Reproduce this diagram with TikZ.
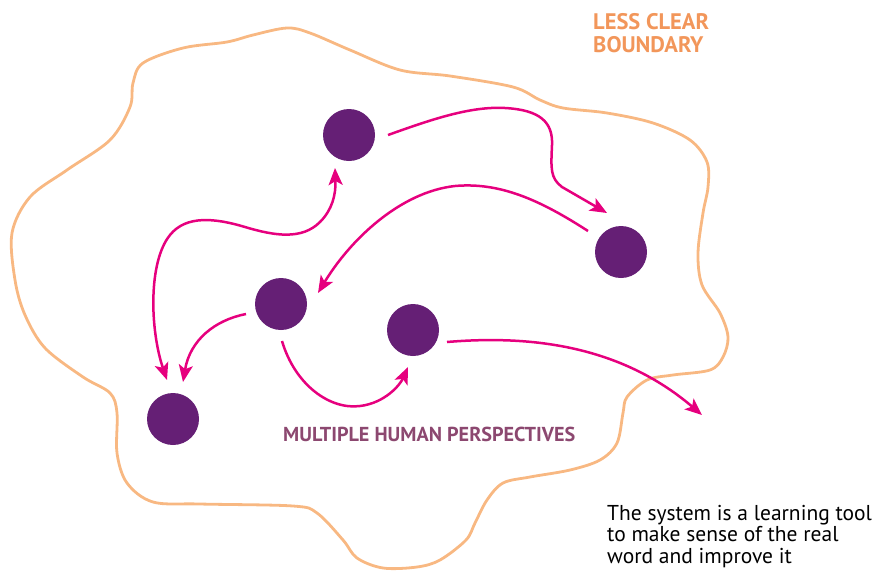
\documentclass[tikz,border=0pt]{standalone}
\usepackage{fontspec}
\setmainfont{PT Sans}
\usetikzlibrary{arrows.meta,calc}
\definecolor{bnd}{RGB}{248,184,130}
\definecolor{bndtext}{RGB}{242,150,90}
\definecolor{dotc}{RGB}{101,31,117}
\definecolor{mag}{RGB}{230,0,126}
\definecolor{perstext}{RGB}{140,72,112}
\tikzset{
  dot/.style={circle,fill=dotc,minimum size=52pt,inner sep=0pt},
  link/.style={draw=mag,line width=2.5pt,-{Stealth[length=17pt,width=14pt,inset=4pt]}},
  dlink/.style={draw=mag,line width=2.5pt,{Stealth[length=17pt,width=14pt,inset=4pt]}-{Stealth[length=17pt,width=14pt,inset=4pt]}},
  boundary/.style={draw=bnd,line width=2.8pt}
}
\begin{document}
\begin{tikzpicture}[x=1pt,y=-1pt]
\useasboundingbox (0,0) rectangle (874,573);
% boundary
\draw[boundary] plot[smooth cycle,tension=0.55] coordinates {
(133,83) (143,63) (183,48) (227,42) (253,35) (287,28) (310,33) (350,50) (400,70) (450,76)
(513,87) (540,100) (563,108) (607,113) (653,123) (690,140) (707,162) (708,187) (703,213)
(698,253) (702,285) (720,313) (728,337) (723,357) (710,370) (673,375) (647,380) (627,397)
(623,413) (617,443) (600,460) (570,470) (530,477) (503,483) (487,500) (475,523) (466,540)
(440,560) (417,567) (383,568) (357,558) (343,540) (317,513) (293,506) (200,504) (153,502)
(127,483) (117,453) (117,413) (110,393) (83,377) (45,348) (25,315) (15,280) (12,233)
(30,197) (67,170) (110,140) (130,107)};
% nodes
\node[dot] (A) at (349,135) {};
\node[dot] (B) at (621,252) {};
\node[dot] (C) at (281,304) {};
\node[dot] (D) at (413,330) {};
\node[dot] (E) at (173,419) {};
% endpoints
\coordinate (a1) at ($(A)+(39,0)$);
\coordinate (b1) at ($(B)+(-14,-39)$);
\coordinate (b2) at ($(B)+(-33,-21)$);
\coordinate (c1) at ($(C)+(37,-11)$);
\coordinate (e1) at ($(E)+(-6,-39)$);
\coordinate (a2) at ($(A)+(-14,33)$);
\coordinate (c2) at ($(C)+(-35,10)$);
\coordinate (e2) at ($(E)+(10,-37)$);
\coordinate (c3) at ($(C)+(1,37)$);
\coordinate (d1) at ($(D)+(-5,37)$);
\coordinate (d2) at ($(D)+(34,12)$);
\coordinate (out) at (702,415);
% connectors
\draw[link] (a1) .. controls (430,120) and (470,106) .. (505,108)
  .. controls (540,110) and (553,122) .. (552,145)
  .. controls (551,168) and (550,178) .. (562,187) -- (b1);
\draw[link] (b2) .. controls (540,200) and (500,182) .. (455,186)
  .. controls (400,192) and (350,240) .. (c1);
\draw[dlink] (e1) .. controls (150,330) and (148,262) .. (170,235)
  .. controls (186,215) and (215,218) .. (245,227)
  .. controls (275,236) and (302,240) .. (320,222)
  .. controls (332,210) and (336,195) .. (a2);
\draw[link] (c2) .. controls (215,320) and (190,340) .. (e2);
\draw[link] (c3) .. controls (295,385) and (330,410) .. (360,406)
  .. controls (385,403) and (400,385) .. (d1);
\draw[link] (d2) .. controls (530,335) and (620,345) .. (out);
% texts
\node[anchor=north west,inner sep=0pt,align=left,text=bndtext,font=\fontsize{22.5}{23}\selectfont\bfseries] (t1) at (593,13) {LESS CLEAR\\BOUNDARY};
\node[anchor=north west,inner sep=0pt,text=perstext,font=\fontsize{20.2}{21}\selectfont\bfseries] (t2) at (283,427) {MULTIPLE HUMAN PERSPECTIVES};
\node[anchor=north west,inner sep=0pt,align=left,text=black,font=\fontsize{21.5}{21.5}\selectfont] (t3) at (607,505) {The system is a learning tool\\to make sense of the real\\word and improve it};
\end{tikzpicture}
\end{document}
